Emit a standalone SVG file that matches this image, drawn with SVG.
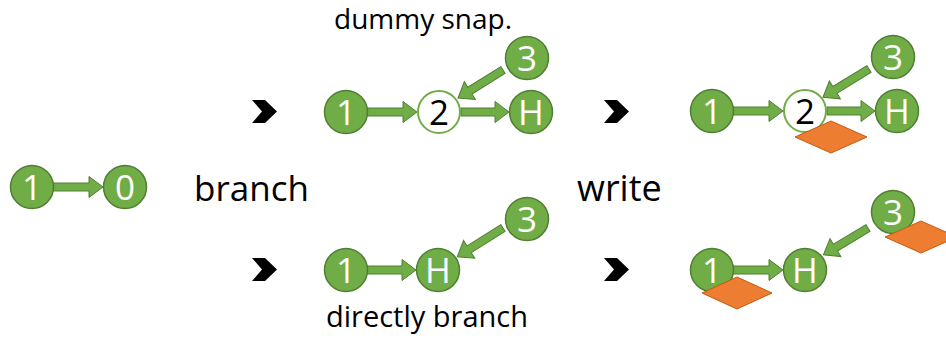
<svg xmlns="http://www.w3.org/2000/svg" width="946" height="341" viewBox="0 0 946 341">
<defs>
<style>
.n{fill:#70AD47;stroke:#507E32;stroke-width:1.5}
.w{fill:#FFFFFF;stroke:#70AD47;stroke-width:2}
.t{font-family:"Open Sans","Liberation Sans",sans-serif;font-size:35px;fill:#FFFFFF;text-anchor:middle}
.tb{font-family:"Open Sans","Liberation Sans",sans-serif;font-size:35px;fill:#000000;text-anchor:middle}
.lbl{font-family:"Open Sans","Liberation Sans",sans-serif;fill:#000000}
.a{fill:#70AD47;stroke:#507E32;stroke-width:1}
.d{fill:#ED7D31;stroke:#C55A11;stroke-width:1}
.c{fill:#000000}
</style>
</defs>
<rect width="946" height="341" fill="#FFFFFF"/>
<g id="connectors">
<path class="a" transform="translate(53,187)" d="M0,-4 L36,-4 L36,-10.5 L50,0 L36,10.5 L36,4 L0,4 Z"/>
<path class="a" transform="translate(367,112)" d="M0,-4 L36,-4 L36,-10.5 L50,0 L36,10.5 L36,4 L0,4 Z"/>
<path class="a" transform="translate(461,112)" d="M0,-4 L34,-4 L34,-10.5 L48,0 L34,10.5 L34,4 L0,4 Z"/>
<path class="a" transform="translate(503,70) rotate(148.1)" d="M0,-4 L39,-4 L39,-10.5 L53,0 L39,10.5 L39,4 L0,4 Z"/>
<path class="a" transform="translate(733,111)" d="M0,-4 L36,-4 L36,-10.5 L50,0 L36,10.5 L36,4 L0,4 Z"/>
<path class="a" transform="translate(827,111)" d="M0,-4 L34,-4 L34,-10.5 L48,0 L34,10.5 L34,4 L0,4 Z"/>
<path class="a" transform="translate(869,69) rotate(148.5)" d="M0,-4 L40,-4 L40,-10.5 L54,0 L40,10.5 L40,4 L0,4 Z"/>
<path class="a" transform="translate(367,270)" d="M0,-4 L35,-4 L35,-10.5 L49,0 L35,10.5 L35,4 L0,4 Z"/>
<path class="a" transform="translate(503,228) rotate(147.8)" d="M0,-4 L40,-4 L40,-10.5 L54,0 L40,10.5 L40,4 L0,4 Z"/>
<path class="a" transform="translate(733,270)" d="M0,-4 L36,-4 L36,-10.5 L50,0 L36,10.5 L36,4 L0,4 Z"/>
<path class="a" transform="translate(868,228) rotate(149)" d="M0,-4 L38,-4 L38,-10.5 L52,0 L38,10.5 L38,4 L0,4 Z"/>
</g>
<g id="chevrons">
<polygon class="c" points="252,100 265,100 277,111.5 265,123 252,123 262,111.5"/>
<polygon class="c" points="252,258 265,258 277,269.5 265,281 252,281 262,269.5"/>
<polygon class="c" points="604,100 617,100 629,111.5 617,123 604,123 614,111.5"/>
<polygon class="c" points="604,258 617,258 629,269.5 617,281 604,281 614,269.5"/>
</g>
<g id="labels">
<text class="lbl" x="334" y="29" font-size="28">dummy snap.</text>
<text class="lbl" x="194" y="201" font-size="35">branch</text>
<text class="lbl" x="577" y="201" font-size="36">write</text>
<text class="lbl" x="326" y="327" font-size="29">directly branch</text>
</g>
<g id="n-left-1"><circle class="n" cx="32" cy="187" r="21.5"/><text class="t" x="32" y="199.5">1</text></g>
<g id="n-left-0"><circle class="n" cx="125" cy="187" r="21.5"/><text class="t" x="125" y="199.5">0</text></g>
<g id="n-tm-1"><circle class="n" cx="346" cy="112" r="21.5"/><text class="t" x="346" y="124.5">1</text></g>
<g id="n-tm-2"><circle class="w" cx="439" cy="112" r="21"/><text class="tb" x="439" y="124.5">2</text></g>
<g id="n-tm-H"><circle class="n" cx="531" cy="112" r="21.5"/><text class="t" x="531" y="124.5">H</text></g>
<g id="n-tm-3"><circle class="n" cx="527" cy="58" r="21.5"/><text class="t" x="527" y="70.5">3</text></g>
<g id="n-tr-1"><circle class="n" cx="712" cy="111" r="21.5"/><text class="t" x="712" y="123.5">1</text></g>
<g id="n-tr-2"><circle class="w" cx="805" cy="111" r="21"/><text class="tb" x="805" y="123.5">2</text></g>
<g id="n-tr-H"><circle class="n" cx="897" cy="111" r="21.5"/><text class="t" x="897" y="123.5">H</text></g>
<g id="n-tr-3"><circle class="n" cx="893" cy="57" r="21.5"/><text class="t" x="893" y="69.5">3</text></g>
<g id="d-tr"><polygon class="d" points="795,137 831,121 867,137 831,153"/></g>
<g id="n-bm-1"><circle class="n" cx="346" cy="270" r="21.5"/><text class="t" x="346" y="282.5">1</text></g>
<g id="n-bm-H"><circle class="n" cx="438" cy="270" r="21.5"/><text class="t" x="438" y="282.5">H</text></g>
<g id="n-bm-3"><circle class="n" cx="527" cy="219" r="21.5"/><text class="t" x="527" y="231.5">3</text></g>
<g id="n-br-1"><circle class="n" cx="712" cy="270" r="21.5"/><text class="t" x="712" y="282.5">1</text></g>
<g id="n-br-H"><circle class="n" cx="805" cy="270" r="21.5"/><text class="t" x="805" y="282.5">H</text></g>
<g id="n-br-3"><circle class="n" cx="893" cy="212" r="21.5"/><text class="t" x="893" y="224.5">3</text></g>
<g id="d-br-1"><polygon class="d" points="702,293 737,277 772,293 737,309"/></g>
<g id="d-br-3"><polygon class="d" points="885,237 921,221 957,237 921,253"/></g>
</svg>
